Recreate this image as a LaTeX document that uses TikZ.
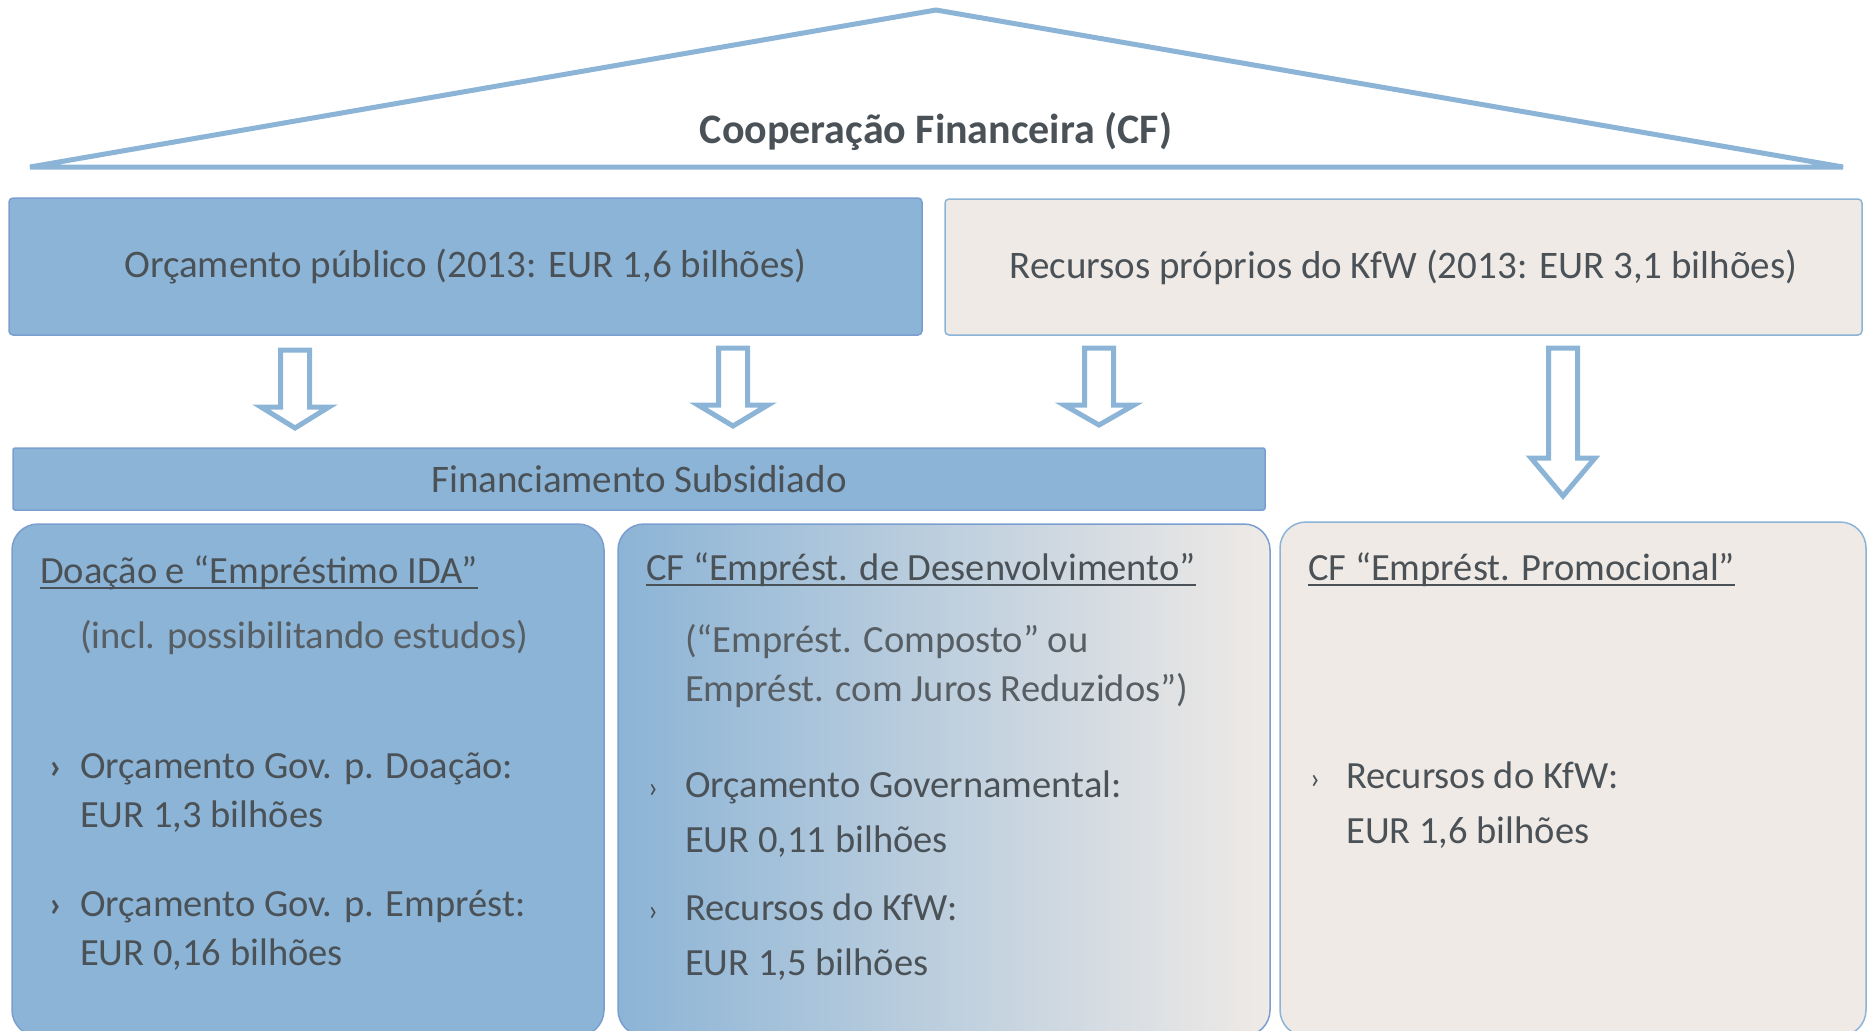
\documentclass[tikz,border=0pt]{standalone}
\usepackage{fontspec}
\setmainfont{Carlito}

\definecolor{cfblue}{HTML}{8CB4D6}
\definecolor{cfedge}{HTML}{7B9ED0}
\definecolor{cfbeige}{HTML}{EFEAE6}
\definecolor{cftext}{HTML}{4B5257}
\definecolor{cfsoft}{HTML}{575E64}

\tikzset{
  roof/.style={draw=cfblue,line width=5pt,line join=miter},
  box/.style={draw,rounded corners=4pt,line width=1.5pt,inner sep=0pt,text=cftext,
    font=\fontsize{39}{46}\selectfont},
  card/.style={draw,rounded corners=26pt,line width=1.5pt},
  hollow/.style={draw=cfblue,line width=5pt,fill=white,line join=miter},
  txt/.style={anchor=base west,inner sep=0pt,text=cftext,font=\fontsize{38.5}{46}\selectfont},
  soft/.style={txt,text=cfsoft},
  bul/.style={anchor=base west,inner sep=0pt,text=cftext,font=\fontsize{30}{36}\selectfont},
  uline/.style={draw=cftext,line width=2pt},
}

\begin{document}
\begin{tikzpicture}[x=1pt,y=-1pt]
\useasboundingbox (0,0) rectangle (1867,1030);

% roof
\coordinate (eaveL) at (30,167);
\coordinate (ridge) at (936,10);
\coordinate (eaveR) at (1843,167);
\path[roof] (eaveL) -- (ridge) -- (eaveR) -- cycle;
\node[text=cftext,font=\fontsize{42}{50}\selectfont\bfseries] (cf) at (936,131) {Cooperação Financeira (CF)};

% sources
\node[box,fill=cfblue,draw=cfedge,minimum width=913pt,minimum height=137pt] (budget) at (465.5,266.5)
  {Orçamento público (2013: EUR 1,6 bilhões)};
\node[box,fill=cfbeige,draw=cfblue,minimum width=917pt,minimum height=136pt] (kfw) at (1403.5,267)
  {Recursos próprios do KfW (2013: EUR 3,1 bilhões)};

% hollow arrows
\foreach \cx/\ya/\yb/\yc/\hw in {295/350/407/428/34, 733/348/405/426/35, 1099/348/405/425/35, 1563/348/458/496/32}
  \path[hollow] (\cx-14.5,\ya) -- (\cx+14.5,\ya) -- (\cx+14.5,\yb) -- (\cx+\hw,\yb) -- (\cx,\yc)
    -- (\cx-\hw,\yb) -- (\cx-14.5,\yb) -- cycle;

% subsidised bar
\node[box,rounded corners=2pt,fill=cfblue,draw=cfedge,minimum width=1252pt,minimum height=62pt] (subs) at (639,479)
  {Financiamento Subsidiado};

% cards
\node[card,fill=cfblue,draw=cfedge,minimum width=592pt,minimum height=512pt] (cardA) at (308,780) {};
\node[card,left color=cfblue,right color=cfbeige,draw=cfedge,minimum width=652pt,minimum height=512pt] (cardB) at (944,780) {};
\node[card,fill=cfbeige,draw=cfblue,minimum width=586pt,minimum height=514pt] (cardC) at (1573,779) {};

% card A
\node[txt] (hA) at (40,583) {Doação e “Empréstimo IDA”};
\path[uline] ([yshift=-5pt]hA.base west) -- ([yshift=-5pt]hA.base east);
\node[soft] (nA) at (80,648) {(incl. possibilitando estudos)};
\node[bul,font=\fontsize{36}{40}\selectfont\bfseries] (bA1) at (49,778) {›};
\node[txt] (tA1) at (80,778) {Orçamento Gov. p. Doação:};
\node[txt] (tA1b) at (80,827) {EUR 1,3 bilhões};
\node[bul,font=\fontsize{36}{40}\selectfont\bfseries] (bA2) at (49,916) {›};
\node[txt] (tA2) at (80,916) {Orçamento Gov. p. Emprést:};
\node[txt] (tA2b) at (80,965) {EUR 0,16 bilhões};

% card B
\node[txt] (hB) at (646,580) {CF “Emprést. de Desenvolvimento”};
\path[uline] ([yshift=-5pt]hB.base west) -- ([yshift=-5pt]hB.base east);
\node[soft] (nB) at (685,652) {(“Emprést. Composto” ou};
\node[soft] (nB2) at (685,701) {Emprést. com Juros Reduzidos”)};
\node[bul] (bB1) at (648,797) {›};
\node[txt] (tB1) at (685,797) {Orçamento Governamental:};
\node[txt] (tB1b) at (685,852) {EUR 0,11 bilhões};
\node[bul] (bB2) at (648,920) {›};
\node[txt] (tB2) at (685,920) {Recursos do KfW:};
\node[txt] (tB2b) at (685,975) {EUR 1,5 bilhões};

% card C
\node[txt] (hC) at (1308,580) {CF “Emprést. Promocional”};
\path[uline] ([yshift=-5pt]hC.base west) -- ([yshift=-5pt]hC.base east);
\node[bul] (bC) at (1310,788) {›};
\node[txt] (tC) at (1346,788) {Recursos do KfW:};
\node[txt] (tCb) at (1346,843) {EUR 1,6 bilhões};

\end{tikzpicture}
\end{document}
